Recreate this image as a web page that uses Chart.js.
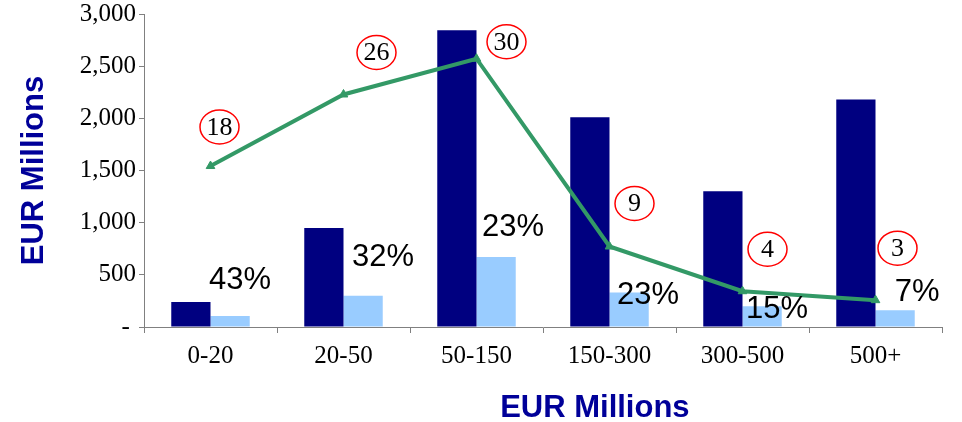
<!DOCTYPE html>
<html>
<head>
<meta charset="utf-8">
<script src="https://cdn.jsdelivr.net/npm/chart.js@4"></script>
<style>
  html, body { margin: 0; padding: 0; background: #fff; }
  #wrap { width: 962px; height: 422px; position: relative; }
</style>
</head>
<body>
<div id="wrap"><canvas id="chart"></canvas></div>
<script>
const categories = ['0-20', '20-50', '50-150', '150-300', '300-500', '500+'];
const totalValue = [240, 950, 2845, 2010, 1300, 2180];
const shareValue = [105, 300, 670, 330, 200, 160];
const dealCounts = [18, 26, 30, 9, 4, 3];
const shareLabels = ['43%', '32%', '23%', '23%', '15%', '7%'];
const yTicks = [0, 500, 1000, 1500, 2000, 2500, 3000];

// label placement relative to the mark it belongs to (px)
const shareLabelOffset = [[10, -36], [20, -38], [17, -30], [19, 3], [15, 3], [22, -18]];
const countBubbleOffset = [[9, -39], [33, -42], [30, -17], [25, -43], [25, -42], [22, -52]];

const serif = '"Liberation Serif", "Times New Roman", serif';
const sans = '"Liberation Sans", Arial, sans-serif';
const axisGrey = '#808080';

const labelsPlugin = {
  id: 'labels',
  afterDatasetsDraw(chart) {
    const ctx = chart.ctx;
    const lightBars = chart.getDatasetMeta(1).data;
    const points = chart.getDatasetMeta(2).data;
    ctx.save();

    // percentage labels next to the light bars
    ctx.fillStyle = '#000';
    ctx.font = '31px ' + sans;
    ctx.textAlign = 'center';
    ctx.textBaseline = 'middle';
    lightBars.forEach((bar, i) => {
      const [dx, dy] = shareLabelOffset[i];
      ctx.fillText(shareLabels[i], bar.x + dx, bar.y + dy);
    });

    // circled deal counts above the line
    ctx.font = '26px ' + serif;
    points.forEach((pt, i) => {
      const [dx, dy] = countBubbleOffset[i];
      const cx = pt.x + dx, cy = pt.y + dy;
      ctx.beginPath();
      ctx.ellipse(cx, cy, 19.5, 17, 0, 0, Math.PI * 2);
      ctx.fillStyle = '#fff';
      ctx.fill();
      ctx.lineWidth = 1.5;
      ctx.strokeStyle = '#ff0000';
      ctx.stroke();
      ctx.fillStyle = '#000';
      ctx.fillText(String(dealCounts[i]), cx, cy + 1);
    });

    // x axis title
    const area = chart.chartArea;
    ctx.fillStyle = '#000099';
    ctx.font = 'bold 31px ' + sans;
    ctx.fillText('EUR Millions', area.left + (area.right - area.left) * 0.565, 408);
    ctx.restore();
  }
};

new Chart(document.getElementById('chart'), {
  type: 'bar',
  data: {
    labels: categories,
    datasets: [
      {
        label: 'Total',
        data: totalValue,
        backgroundColor: '#000080',
        order: 1
      },
      {
        label: 'Share',
        data: shareValue,
        backgroundColor: '#99ccff',
        order: 1
      },
      {
        type: 'line',
        label: 'Deals',
        data: dealCounts,
        yAxisID: 'y1',
        borderColor: '#339966',
        backgroundColor: '#339966',
        borderWidth: 4,
        pointStyle: 'triangle',
        pointRadius: 5,
        pointBorderWidth: 1,
        tension: 0,
        order: 0
      }
    ]
  },
  options: {
    responsive: true,
    maintainAspectRatio: false,
    animation: false,
    layout: { padding: { left: 0, right: 20, top: 14, bottom: 0 } },
    datasets: {
      bar: { barPercentage: 1, categoryPercentage: 0.59 }
    },
    plugins: {
      legend: { display: false },
      tooltip: { enabled: false }
    },
    scales: {
      x: {
        offset: true,
        border: { color: axisGrey, width: 1 },
        grid: { offset: true, drawOnChartArea: false, drawTicks: true, tickLength: 6, color: axisGrey },
        ticks: { color: '#000', font: { family: serif, size: 25 }, padding: 8, maxRotation: 0 },
        afterFit(scale) { scale.height = 95; }
      },
      y: {
        min: 0,
        max: 3000,
        border: { color: axisGrey, width: 1 },
        grid: { drawOnChartArea: false, drawTicks: true, tickLength: 5, color: axisGrey },
        afterBuildTicks(scale) { scale.ticks = yTicks.map(v => ({ value: v })); },
        ticks: {
          color: '#000',
          font: { family: serif, size: 25 },
          padding: 3,
          callback: v => (v === 0 ? '- ' : v.toLocaleString('en-US'))
        },
        title: {
          display: true,
          text: 'EUR Millions',
          color: '#000099',
          font: { family: sans, size: 31, weight: 'bold' },
          padding: { top: 16, bottom: 0 }
        },
        afterFit(scale) {
          scale.width = 144;
          // let the top label overhang the plot instead of pushing it down
          scale.paddingTop = 0;
          scale.paddingBottom = 0;
        }
      },
      y1: {
        display: false,
        min: 0,
        max: 35
      }
    }
  },
  plugins: [labelsPlugin]
});
</script>
</body>
</html>
